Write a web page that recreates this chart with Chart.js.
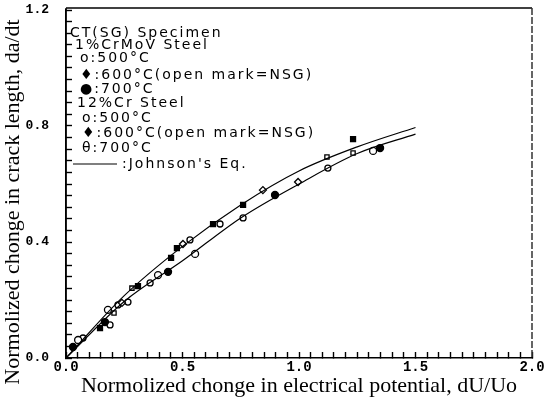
<!DOCTYPE html>
<html>
<head>
<meta charset="utf-8">
<script src="https://cdn.jsdelivr.net/npm/chart.js@4/dist/chart.umd.min.js"></script>
<style>
  html, body { margin: 0; padding: 0; background: #fff; }
  #wrap { width: 544px; height: 402px; }
</style>
</head>
<body>
<div id="wrap"><canvas id="myChart"></canvas></div>
<script>
// Johnson's equation curves
const curveX = [0, 0.25, 0.5, 0.75, 1.0, 1.25, 1.5];
const upperY = [0, 0.215, 0.385, 0.528, 0.645, 0.728, 0.795];
const lowerY = [0, 0.195, 0.335, 0.483, 0.600, 0.705, 0.772];

// 1%CrMoV steel
const crmov500X = [0.052, 0.180, 0.395, 0.554, 1.318];
const crmov500Y = [0.062, 0.166, 0.286, 0.359, 0.714];
const crmov600X = [0.240, 0.502, 0.845, 0.996];
const crmov600Y = [0.190, 0.393, 0.579, 0.607];
const crmov700X = [0.030, 0.167, 0.438, 0.897, 1.348];
const crmov700Y = [0.038, 0.124, 0.297, 0.562, 0.724];

// 12%Cr steel
const cr500X = [0.073, 0.189, 0.223, 0.266, 0.361, 0.532, 0.661, 0.760, 1.124];
const cr500Y = [0.069, 0.114, 0.183, 0.193, 0.259, 0.407, 0.462, 0.483, 0.655];
const cr600X = [0.146, 0.309, 0.451, 0.476, 0.631, 0.760, 1.232];
const cr600Y = [0.103, 0.248, 0.345, 0.379, 0.462, 0.528, 0.755];
const cr700X = [0.206, 0.283, 1.120, 1.232];
const cr700Y = [0.155, 0.241, 0.693, 0.707];

const legendLines = [
  'CT(SG) Specimen',
  '1%CrMoV Steel',
  'o:500°C',
  '♦:600°C(open mark=NSG)',
  '●:700°C',
  '12%Cr Steel',
  'o:500°C',
  '♦:600°C(open mark=NSG)',
  'θ:700°C',
  ':Johnson\'s Eq.'
];
const xTitle = 'Normolized chonge in electrical potential, dU/Uo';
const yTitle = 'Normolized chonge in crack length, da/dt';

function pts(xs, ys) {
  return xs.map((x, i) => ({x: x, y: ys[i]}));
}

function isMajor(v, step) {
  return Math.abs(v / step - Math.round(v / step)) < 1e-6;
}

const marks = {
  id: 'marks',
  afterDraw(chart) {
    const c = chart.ctx;
    const a = chart.chartArea;
    c.save();
    // frame
    c.strokeStyle = '#000';
    c.lineWidth = 1.5;
    c.beginPath();
    c.moveTo(a.left, a.top - 2);
    c.lineTo(a.right, a.top - 2);
    c.stroke();
    c.beginPath();
    c.moveTo(a.left, a.top - 2);
    c.lineTo(a.left, a.bottom);
    c.stroke();
    c.setLineDash([7, 2]);
    c.strokeStyle = '#333';
    c.beginPath();
    c.moveTo(a.right, a.top - 2);
    c.lineTo(a.right, a.bottom);
    c.stroke();
    c.setLineDash([]);
    c.strokeStyle = '#000';

    // legend block
    c.fillStyle = '#000';
    c.font = '14px "DejaVu Sans"';
    c.letterSpacing = '2px';
    c.textBaseline = 'middle';
    c.textAlign = 'left';
    const lx = [70, 75, 80, 80, 80, 77, 82, 82, 82, 122];
    const ly = [33, 45, 58, 75, 89, 103, 118, 133, 148, 164];
    legendLines.forEach((s, i) => {
      c.fillText(s, lx[i], ly[i]);
    });
    c.letterSpacing = '0px';
    c.lineWidth = 1.2;
    c.beginPath();
    c.moveTo(73, 164);
    c.lineTo(117, 164);
    c.stroke();

    // y axis title
    c.font = '22px "Liberation Serif"';
    c.textAlign = 'center';
    c.translate(13, 202);
    c.rotate(-Math.PI / 2);
    c.fillText(yTitle, 0, 0);
    c.restore();
  }
};

const pointSet = (label, data, style, fill, r) => ({
  label: label,
  data: data,
  pointStyle: style,
  pointRadius: r,
  pointBackgroundColor: fill,
  pointBorderColor: '#000',
  pointBorderWidth: 1.3,
  showLine: false
});

const lineSet = (label, data) => ({
  label: label,
  data: data,
  showLine: true,
  pointRadius: 0,
  borderColor: '#000',
  borderWidth: 1.2,
  cubicInterpolationMode: 'monotone'
});

// inward tick marks: negative tick length, nothing on the chart area
const inwardGrid = {
  display: true,
  drawOnChartArea: false,
  drawTicks: true,
  tickLength: -6,
  tickWidth: 1.4,
  tickColor: '#000',
  color: '#000'
};

const ctx = document.getElementById('myChart').getContext('2d');

const config = {
  type: 'scatter',
  data: {
    datasets: [
      lineSet('Johnson upper', pts(curveX, upperY)),
      lineSet('Johnson lower', pts(curveX, lowerY)),
      pointSet('1%CrMoV 500°C', pts(crmov500X, crmov500Y), 'circle', '#fff', 3.5),
      pointSet('1%CrMoV 600°C', pts(crmov600X, crmov600Y), 'rectRot', '#fff', 3.5),
      pointSet('1%CrMoV 700°C', pts(crmov700X, crmov700Y), 'circle', '#000', 3.5),
      pointSet('12%Cr 500°C', pts(cr500X, cr500Y), 'circle', '#fff', 3),
      pointSet('12%Cr 600°C', pts(cr600X, cr600Y), 'rect', '#000', 3.5),
      pointSet('12%Cr 700°C', pts(cr700X, cr700Y), 'rect', '#fff', 3)
    ]
  },
  options: {
    responsive: true,
    maintainAspectRatio: false,
    animation: false,
    layout: { padding: { top: 10, right: 12, left: 0, bottom: 0 } },
    plugins: {
      legend: { display: false },
      tooltip: { enabled: false }
    },
    scales: {
      x: {
        type: 'linear',
        min: 0,
        max: 2,
        afterFit: function (scale) {
          scale.height = 44;
          scale.paddingLeft = 0;
          scale.paddingRight = 0;
        },
        border: { display: true, color: '#000', width: 1.5 },
        grid: inwardGrid,
        ticks: {
          stepSize: 0.05,
          autoSkip: false,
          maxRotation: 0,
          padding: 7,
          color: '#000',
          font: { family: '"Liberation Mono"', size: 14, weight: 'bold' },
          callback: function (value) {
            return isMajor(value, 0.5) ? value.toFixed(1) : '';
          }
        },
        title: {
          display: true,
          text: xTitle,
          color: '#000',
          font: { family: '"Liberation Serif"', size: 22 },
          padding: { top: 0, bottom: 3 }
        }
      },
      y: {
        type: 'linear',
        min: 0,
        max: 1.2,
        afterFit: function (scale) {
          scale.width = 66;
          scale.paddingTop = 0;
          scale.paddingBottom = 0;
        },
        border: { display: true, color: '#000', width: 1.5 },
        grid: inwardGrid,
        ticks: {
          stepSize: 0.04,
          autoSkip: false,
          padding: 23,
          color: '#000',
          font: { family: '"Liberation Mono"', size: 13, weight: 'bold' },
          callback: function (value) {
            return isMajor(value, 0.4) ? value.toFixed(1) : '';
          }
        }
      }
    }
  },
  plugins: [marks]
};

const myChart = new Chart(ctx, config);
</script>
</body>
</html>
